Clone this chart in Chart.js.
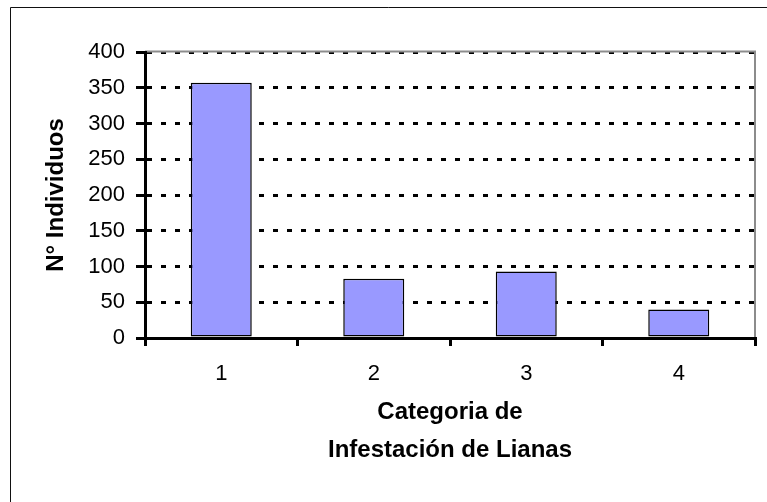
<!DOCTYPE html>
<html>
<head>
<meta charset="utf-8">
<script src="https://cdn.jsdelivr.net/npm/chart.js@4/dist/chart.umd.min.js"></script>
<style>
  html, body { margin:0; padding:0; background:#fff; }
  canvas { display:block; }
</style>
</head>
<body>
<canvas id="chart" width="767" height="502"></canvas>
<script>
/* ======= Dados ======= */
const categorias = ['1', '2', '3', '4'];
const individuos = [357, 83, 93, 40];
const yTicks = [0, 50, 100, 150, 200, 250, 300, 350, 400];

const tituloX = ['Categoria de', 'Infestación de Lianas'];
const tituloY = 'N° Individuos';

const FONT = "'Liberation Sans', Arial, sans-serif";

/* ======= Moldura (borda externa + borda cinza da área) ======= */
const molduraPlugin = {
  id: 'moldura',
  beforeDraw(chart) {
    const ctx = chart.ctx;
    ctx.save();
    ctx.fillStyle = '#fff';
    ctx.fillRect(0, 0, chart.width, chart.height);
    ctx.restore();
  },
  beforeDatasetsDraw(chart) {
    const { ctx, chartArea } = chart;
    ctx.save();
    ctx.strokeStyle = '#8c8c8c';
    ctx.lineWidth = 2;
    ctx.beginPath();
    ctx.moveTo(chartArea.left, chartArea.top - 0.5);
    ctx.lineTo(chartArea.right, chartArea.top - 0.5);
    ctx.lineTo(chartArea.right, chartArea.bottom);
    ctx.stroke();
    ctx.restore();
  },
  afterDraw(chart) {
    const ctx = chart.ctx;
    ctx.save();
    ctx.strokeStyle = '#111';
    ctx.lineWidth = 1;
    ctx.beginPath();
    ctx.moveTo(10.5, chart.height);
    ctx.lineTo(10.5, 7.5);
    ctx.lineTo(chart.width, 7.5);
    ctx.stroke();
    ctx.restore();
  }
};

/* ======= Chart ======= */
const ctx = document.getElementById('chart').getContext('2d');
new Chart(ctx, {
  type: 'bar',
  data: {
    labels: categorias,
    datasets: [{
      data: individuos,
      backgroundColor: '#9999ff',
      borderColor: '#000',
      borderWidth: 1.5,
      borderSkipped: false,
      barPercentage: 0.4,
      categoryPercentage: 1
    }]
  },
  options: {
    responsive: false,
    animation: false,
    devicePixelRatio: 1,
    layout: { padding: { left: 30, right: 12, top: 52, bottom: 0 } },
    plugins: { legend: { display: false }, tooltip: { enabled: false } },
    scales: {
      x: {
        afterFit: (s) => { s.height = 164; },
        grid: { display: true, drawOnChartArea: false, drawTicks: true, tickLength: 8, color: '#000', lineWidth: 3, offset: true },
        border: { display: true, color: '#000', width: 3, z: 1 },
        ticks: { color: '#000', font: { family: FONT, size: 22 }, padding: 15 },
        title: {
          display: true, text: tituloX, color: '#000',
          font: { family: FONT, size: 24, weight: 'bold', lineHeight: 1.58 },
          padding: { top: 0, bottom: 33 }
        }
      },
      y: {
        min: 0, max: 400,
        afterFit: (s) => { s.width = 115; },
        afterBuildTicks: (s) => { s.ticks = yTicks.map(v => ({ value: v })); },
        grid: { color: '#000', lineWidth: 3, tickLength: 9, tickColor: '#000', tickWidth: 3 },
        border: { display: true, color: '#000', width: 3, dash: [5, 9], z: 1 },
        ticks: { color: '#000', font: { family: FONT, size: 22 }, padding: 11 },
        title: {
          display: true, text: tituloY, color: '#000',
          font: { family: FONT, size: 24, weight: 'bold', lineHeight: 1.2 },
          padding: { top: 11.6, bottom: 0 }
        }
      }
    }
  },
  plugins: [molduraPlugin]
});
</script>
</body>
</html>
